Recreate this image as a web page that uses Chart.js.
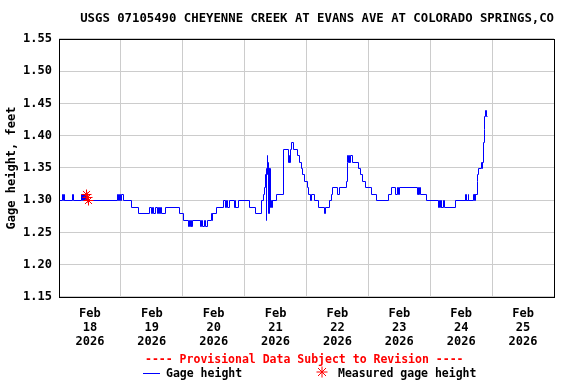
<!DOCTYPE html>
<html>
<head>
<meta charset="utf-8">
<title>Cheyenne Creek gage height</title>
<script src="https://cdn.jsdelivr.net/npm/chart.js@4.4.1/dist/chart.umd.min.js"></script>
<style>
  body { margin: 0; background: #ffffff; }
  #wrap { position: relative; width: 576px; height: 384px; }
  .txt {
    position: absolute;
    font: bold 11.5px "DejaVu Sans Mono", monospace;
    line-height: 14px;
    white-space: nowrap;
    color: #000000;
  }
  .note { color: #ff0000; left: 145px; top: 352px; }
  .swatch-line {
    display: inline-block;
    width: 17px;
    height: 1px;
    background: #0000ff;
    vertical-align: middle;
    margin-right: 6px;
  }
  .swatch-star { vertical-align: -1px; margin-right: 10px; }
</style>
</head>
<body>
<div id="wrap">
  <canvas id="chart-gage" width="576" height="384"></canvas>
  <div class="txt note">---- Provisional Data Subject to Revision ----</div>
  <div class="txt" style="left:143px; top:366px"><span class="swatch-line"></span>Gage height</div>
  <div class="txt" style="left:316px; top:366px"><svg class="swatch-star" width="12" height="12" viewBox="0 0 12 12"><path d="M6 0.5V11.5M0.5 6H11.5M2 2L10 10M10 2L2 10" stroke="#ff0000" stroke-width="1" fill="none"/></svg>Measured gage height</div>
</div>
<script>
const fontFamily = '"DejaVu Sans Mono", monospace';
const startDay = 18; // Feb 18 2026 00:00 is x = 0

// gage height steps: time in days after Feb 18 00:00, value in feet
const stepDays = [
  0.00, 0.05, 0.06, 0.075, 0.085, 0.21, 0.22, 0.355, 0.365, 0.375, 0.39, 0.40, 0.42, 0.43, 0.445,
  0.94, 0.95, 0.965, 0.98, 1.00, 1.03, 1.163, 1.28,
  1.46, 1.48, 1.50, 1.52, 1.55, 1.58, 1.60, 1.62, 1.63, 1.65, 1.71, 1.94, 2.01,
  2.09, 2.10, 2.11, 2.13, 2.14, 2.15, 2.28, 2.30, 2.31, 2.35, 2.36, 2.39, 2.46, 2.47, 2.48, 2.54,
  2.65, 2.69, 2.70, 2.71, 2.74, 2.83, 2.84, 2.85, 2.89, 3.07, 3.17, 3.27,
  3.29, 3.31, 3.33, 3.34, 3.345, 3.35, 3.36, 3.365, 3.37, 3.375, 3.385, 3.39, 3.40, 3.41, 3.42, 3.435, 3.45, 3.50,
  3.62, 3.705, 3.71, 3.715, 3.73, 3.755, 3.78, 3.85, 3.88, 3.91, 3.93, 3.96, 4.00, 4.03, 4.06, 4.07, 4.12,
  4.19, 4.28, 4.30, 4.37, 4.39, 4.42, 4.49, 4.53, 4.64, 4.65, 4.66, 4.67, 4.68, 4.69, 4.70, 4.73,
  4.835, 4.86, 4.90, 4.95, 5.04, 5.12,
  5.32, 5.36, 5.43, 5.47, 5.475, 5.50, 5.79, 5.80, 5.81, 5.82, 5.83, 5.93,
  6.13, 6.14, 6.15, 6.17, 6.18, 6.20, 6.22, 6.40, 6.56, 6.565, 6.57, 6.58, 6.61, 6.615,
  6.69, 6.70, 6.71, 6.72, 6.73, 6.75, 6.76, 6.77, 6.82, 6.83, 6.84, 6.855, 6.865, 6.875, 6.885, 6.895, 6.91,
];
const stepHeights = [
  1.30, 1.31, 1.30, 1.31, 1.30, 1.31, 1.30, 1.31, 1.30, 1.31, 1.30, 1.31, 1.30, 1.31, 1.30,
  1.31, 1.30, 1.31, 1.30, 1.31, 1.30, 1.29, 1.28,
  1.29, 1.28, 1.29, 1.28, 1.29, 1.28, 1.29, 1.28, 1.29, 1.28, 1.29, 1.28, 1.27,
  1.26, 1.27, 1.26, 1.27, 1.26, 1.27, 1.26, 1.27, 1.26, 1.27, 1.26, 1.27, 1.28, 1.27, 1.28, 1.29,
  1.30, 1.29, 1.30, 1.29, 1.30, 1.29, 1.30, 1.29, 1.30, 1.29, 1.28, 1.30,
  1.31, 1.32, 1.34, 1.33, 1.27, 1.35, 1.37, 1.34, 1.36, 1.28, 1.35, 1.28, 1.35, 1.29, 1.30, 1.29, 1.30, 1.31,
  1.38, 1.36, 1.37, 1.36, 1.38, 1.39, 1.38, 1.37, 1.36, 1.35, 1.34, 1.33, 1.32, 1.31, 1.30, 1.31, 1.30,
  1.29, 1.28, 1.29, 1.30, 1.31, 1.32, 1.31, 1.32, 1.33, 1.36, 1.37, 1.36, 1.37, 1.36, 1.37, 1.36,
  1.35, 1.34, 1.33, 1.32, 1.31, 1.30,
  1.31, 1.32, 1.31, 1.32, 1.31, 1.32, 1.31, 1.32, 1.31, 1.32, 1.31, 1.30,
  1.29, 1.30, 1.29, 1.30, 1.29, 1.30, 1.29, 1.30, 1.31, 1.30, 1.31, 1.30, 1.31, 1.30,
  1.31, 1.30, 1.31, 1.30, 1.31, 1.33, 1.34, 1.35, 1.36, 1.35, 1.36, 1.39, 1.41, 1.43, 1.44, 1.43, 1.43,
];

// field measurements
const measuredDays = [0.44, 0.455, 0.47];
const measuredHeights = [1.31, 1.305, 1.30];

const yTicks = { min: 1.15, max: 1.55, step: 0.05 };

const gageData = stepDays.map((d, i) => ({ x: d, y: stepHeights[i] }));
const measuredData = measuredDays.map((d, i) => ({ x: d, y: measuredHeights[i] }));

// snap points to pixel centres so the 1px step line stays sharp
const snapPlugin = {
  id: "snap",
  afterDatasetsUpdate(chart) {
    chart.getSortedVisibleDatasetMetas().forEach((meta) => {
      meta.data.forEach((pt) => {
        pt.x = Math.round(pt.x) + 0.5;
        pt.y = Math.round(pt.y) + 0.5;
      });
    });
  },
};

// box around the plot area
const framePlugin = {
  id: "frame",
  afterDraw(chart) {
    const { ctx, chartArea } = chart;
    const l = Math.round(chartArea.left), t = Math.round(chartArea.top);
    const r = Math.round(chartArea.right), b = Math.round(chartArea.bottom);
    ctx.save();
    ctx.strokeStyle = "#000000";
    ctx.lineWidth = 1;
    ctx.strokeRect(l + 0.5, t + 0.5, r - l, b - t);
    ctx.restore();
  },
};

const ctxGage = document.getElementById("chart-gage").getContext("2d");

new Chart(ctxGage, {
  type: "line",
  data: {
    datasets: [
      {
        label: "Measured gage height",
        data: measuredData,
        showLine: false,
        pointStyle: "star",
        pointRadius: 5,
        borderColor: "#ff0000",
        backgroundColor: "#ff0000",
        borderWidth: 1,
        order: 0,
      },
      {
        label: "Gage height",
        data: gageData,
        stepped: true,
        borderColor: "#0000ff",
        borderWidth: 1,
        pointRadius: 0,
        fill: false,
        order: 1,
      },
    ],
  },
  options: {
    responsive: false,
    animation: false,
    layout: { padding: { left: 0, right: 22, top: 0, bottom: 0 } },
    plugins: {
      legend: { display: false },
      tooltip: { enabled: false },
      title: {
        display: true,
        text: "USGS 07105490 CHEYENNE CREEK AT EVANS AVE AT COLORADO SPRINGS,CO",
        align: "end",
        color: "#000000",
        font: { family: fontFamily, size: 12.3, weight: "bold" },
        padding: { top: 11, bottom: 13.2 },
      },
    },
    scales: {
      x: {
        type: "linear",
        min: 0,
        max: 8,
        afterFit: (scale) => {
          scale.height = 87;
        },
        grid: {
          drawTicks: false,
          color: (c) => (c.tick && Number.isInteger(c.tick.value) ? "#cccccc" : "rgba(0,0,0,0)"),
        },
        border: { display: false },
        ticks: {
          stepSize: 0.5,
          autoSkip: false,
          maxRotation: 0,
          padding: 10,
          color: "#000000",
          font: { family: fontFamily, size: 12, weight: "bold", lineHeight: 14 / 12 },
          callback: (v) => (v % 1 === 0.5 ? ["Feb", String(startDay + Math.floor(v)), "2026"] : ""),
        },
      },
      y: {
        min: yTicks.min,
        max: yTicks.max,
        afterFit: (scale) => {
          scale.width = 59;
        },
        grid: { drawTicks: false, color: "#cccccc" },
        border: { display: false },
        ticks: {
          stepSize: yTicks.step,
          padding: 7,
          color: "#000000",
          font: { family: fontFamily, size: 12, weight: "bold" },
          callback: (v) => Number(v).toFixed(2),
        },
        title: {
          display: true,
          text: "Gage height, feet",
          color: "#000000",
          font: { family: fontFamily, size: 12, weight: "bold" },
          padding: { top: 5, bottom: 0 },
        },
      },
    },
  },
  plugins: [snapPlugin, framePlugin],
});
</script>
</body>
</html>
